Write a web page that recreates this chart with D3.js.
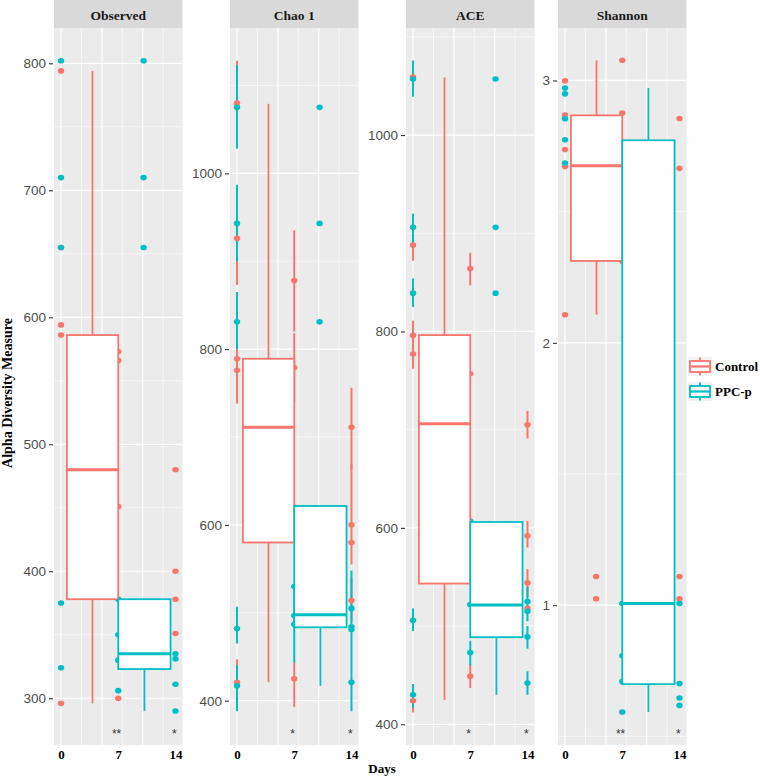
<!DOCTYPE html>
<html><head><meta charset="utf-8">
<script src="https://cdn.jsdelivr.net/npm/d3@7/dist/d3.min.js"></script>
<style>body{margin:0;background:#fff}</style>
</head><body><svg id="c" width="760" height="778"></svg>
<script>
// ---------- DATA ----------
const metrics = ["Observed", "Chao 1", "ACE", "Shannon"];
const groupNames = ["Control", "PPC-p"];
const groupColors = ["#F8766D", "#00BFC4"];
const dayTicks = [0, 7, 14];

const yTicksObserved = [300, 400, 500, 600, 700, 800];
const yTicksChao = [400, 600, 800, 1000];
const yTicksACE = [400, 600, 800, 1000];
const yTicksShannon = [1, 2, 3];

const yDomainObserved = [263.2, 827.8];
const yDomainChao = [349.6, 1165.3];
const yDomainACE = [378.9, 1109];
const yDomainShannon = [0.467, 3.2];

// points: [group, day, value]
const observedPoints = [
  [0,0,794],[0,0,655],[0,0,594],[0,0,586],[0,0,296],
  [1,0,802],[1,0,710],[1,0,655],[1,0,375],[1,0,324],
  [0,7,573],[0,7,566],[0,7,451],[0,7,300],
  [1,7,378],[1,7,350],[1,7,330],[1,7,306],
  [1,10.1,802],[1,10.1,710],[1,10.1,655],
  [0,14,480],[0,14,400],[0,14,378],[0,14,351],
  [1,14,335],[1,14,331],[1,14,311],[1,14,290]
];
const chaoPoints = [
  [0,0,1080],[0,0,926],[0,0,789],[0,0,776],[0,0,421],
  [1,0,1075],[1,0,943],[1,0,831],[1,0,482],[1,0,417],
  [0,7,878],[0,7,779],[0,7,425],
  [1,7,620],[1,7,530],[1,7,497],[1,7,487],
  [1,10.1,1075],[1,10.1,943],[1,10.1,831],
  [0,14,711],[0,14,600],[0,14,580],[0,14,514],
  [1,14,505],[1,14,484],[1,14,481],[1,14,421]
];
const acePoints = [
  [0,0,1059],[0,0,888],[0,0,796],[0,0,777],[0,0,424],
  [1,0,1057],[1,0,906],[1,0,839],[1,0,506],[1,0,430],
  [0,7,864],[0,7,757],[0,7,449],
  [1,7,607],[1,7,522],[1,7,473],
  [1,10.1,1057],[1,10.1,906],[1,10.1,839],
  [0,14,705],[0,14,592],[0,14,544],[0,14,518],
  [1,14,525],[1,14,515],[1,14,489],[1,14,442]
];
const shannonPoints = [
  [0,0,2.999],[0,0,2.868],[0,0,2.737],[0,0,2.672],[0,0,2.107],
  [1,0,2.971],[1,0,2.949],[1,0,2.854],[1,0,2.774],[1,0,2.685],
  [0,3.8,1.109],[0,3.8,1.024],
  [0,7,3.077],[0,7,2.876],[0,7,2.311],
  [1,7,1.006],[1,7,0.807],[1,7,0.709],[1,7,0.593],
  [0,14,2.855],[0,14,2.665],[0,14,1.109],[0,14,1.024],
  [1,14,1.006],[1,14,0.701],[1,14,0.646],[1,14,0.618]
];

// vertical ranges: [group, day, low, high]
const observedRanges = [];
const chaoRanges = [
  [0,0,1030,1128],[0,0,873,960],[0,0,738,803],[0,0,395,447],
  [1,0,1028,1123],[1,0,900,987],[1,0,800,865],[1,0,465,507],[1,0,388,440],
  [0,7,820,935],[0,7,740,818],[0,7,393,443],
  [1,7,443,530],
  [0,14,663,756],[0,14,555,669],[0,14,490,540],
  [1,14,388,548]
];
const aceRanges = [
  [0,0,872,903],[0,0,781,811],[0,0,762,792],[0,0,412,435],
  [1,0,1039,1076],[1,0,889,920],[1,0,825,854],[1,0,495,518],[1,0,417,441],
  [0,7,847,880],[0,7,437,461],
  [1,7,460,485],
  [0,14,691,719],[0,14,580,607],[0,14,530,558],
  [1,14,505,540],[1,14,477,500],[1,14,430,454]
];
const shannonRanges = [];

// box stats: [group, lowerWhisker, q1, median, q3, upperWhisker]
const observedBoxes = [[0,296,378,480,586,794],[1,290,323,335,378,378]];
const chaoBoxes = [[0,421,580,711,789,1079],[1,417,483.5,497.8,621.5,621.5]];
const aceBoxes = [[0,424.7,543.3,706,796.3,1058.8],[1,430,488.7,521.5,606,606]];
const shannonBoxes = [[0,2.107,2.312,2.675,2.867,3.077],[1,0.593,0.699,1.006,2.772,2.971]];

// significance labels at day 7 and day 14
const signifObserved = ["**", "*"];
const signifChao = ["*", "*"];
const signifACE = ["*", "*"];
const signifShannon = ["**", "*"];
const signifDays = [6.8, 13.85];

// ---------- LAYOUT ----------
const panels = [
  {name: metrics[0], ticks: yTicksObserved, dom: yDomainObserved, pts: observedPoints, rng: observedRanges, box: observedBoxes, sig: signifObserved},
  {name: metrics[1], ticks: yTicksChao, dom: yDomainChao, pts: chaoPoints, rng: chaoRanges, box: chaoBoxes, sig: signifChao},
  {name: metrics[2], ticks: yTicksACE, dom: yDomainACE, pts: acePoints, rng: aceRanges, box: aceBoxes, sig: signifACE},
  {name: metrics[3], ticks: yTicksShannon, dom: yDomainShannon, pts: shannonPoints, rng: shannonRanges, box: shannonBoxes, sig: signifShannon}
];
const panelLefts = [54, 230, 406, 558];
const panelW = 128.5;
const pTop = 28, pBottom = 745, stripTop = 0;
const xDomain = [-0.86, 14.86];
// box horizontal extents in day units: [left, right, whiskerX]
const boxSpan = [[0.72, 7.0, 3.85], [7.0, 13.4, 10.2]];

const svg = d3.select("#c");
const serif = "'Liberation Serif','Times New Roman',serif";
const sans = "'Liberation Sans',Arial,sans-serif";

panels.forEach((p, i) => {
  const L = panelLefts[i];
  const x = d3.scaleLinear().domain(xDomain).range([L, L + panelW]);
  const y = d3.scaleLinear().domain(p.dom).range([pBottom, pTop]);
  const g = svg.append("g");

  // strip
  g.append("rect").attr("x", L).attr("y", stripTop).attr("width", panelW).attr("height", pTop - stripTop).attr("fill", "#D9D9D9");
  g.append("text").attr("x", L + panelW / 2).attr("y", 20).attr("text-anchor", "middle")
    .attr("font-family", serif).attr("font-weight", "bold").attr("font-size", 13.5).attr("fill", "#1A1A1A").text(p.name);

  // panel bg
  g.append("rect").attr("x", L).attr("y", pTop).attr("width", panelW).attr("height", pBottom - pTop).attr("fill", "#EBEBEB");

  // grid
  const step = p.ticks[1] - p.ticks[0];
  const minorY = [];
  for (let v = p.ticks[0] - step / 2; v <= p.dom[1]; v += step) if (v >= p.dom[0]) minorY.push(v);
  g.selectAll(null).data(minorY).join("line").attr("x1", L).attr("x2", L + panelW)
    .attr("y1", d => y(d)).attr("y2", d => y(d)).attr("stroke", "#fff").attr("stroke-width", 0.6);
  const minorX = [2.5, 7.5, 12.5], majorX = [0, 5, 10];
  g.selectAll(null).data(minorX).join("line").attr("y1", pTop).attr("y2", pBottom)
    .attr("x1", d => x(d)).attr("x2", d => x(d)).attr("stroke", "#fff").attr("stroke-width", 0.6);
  g.selectAll(null).data(p.ticks).join("line").attr("x1", L).attr("x2", L + panelW)
    .attr("y1", d => y(d)).attr("y2", d => y(d)).attr("stroke", "#fff").attr("stroke-width", 1.2);
  g.selectAll(null).data(majorX).join("line").attr("y1", pTop).attr("y2", pBottom)
    .attr("x1", d => x(d)).attr("x2", d => x(d)).attr("stroke", "#fff").attr("stroke-width", 1.2);

  // y axis
  const ya = d3.axisLeft(y).tickValues(p.ticks).tickSize(4).tickPadding(3).tickFormat(d3.format("d"));
  const yg = svg.append("g").attr("transform", `translate(${L - 1},0)`).call(ya);
  yg.select(".domain").remove();
  yg.selectAll(".tick line").attr("stroke", "#333").attr("stroke-width", 1.1);
  yg.selectAll(".tick text").attr("font-family", sans).attr("font-size", 13.5).attr("fill", "#4D4D4D");

  // x axis
  const xa = d3.axisBottom(x).tickValues(dayTicks).tickSize(0).tickPadding(5);
  const xg = svg.append("g").attr("transform", `translate(0,${pBottom})`).call(xa);
  xg.select(".domain").remove();
  xg.selectAll(".tick text").attr("font-family", serif).attr("font-weight", "bold").attr("font-size", 13).attr("fill", "#000");

  // ranges (red first, then cyan)
  const rng = p.rng.slice().sort((a, b) => a[0] - b[0]);
  g.selectAll(null).data(rng).join("line")
    .attr("x1", d => x(d[1])).attr("x2", d => x(d[1]))
    .attr("y1", d => y(d[2])).attr("y2", d => y(d[3]))
    .attr("stroke", d => groupColors[d[0]]).attr("stroke-width", 2);

  // points
  const pts = p.pts.slice().sort((a, b) => a[0] - b[0]);
  g.selectAll(null).data(pts).join("ellipse")
    .attr("cx", d => x(d[1])).attr("cy", d => y(d[2])).attr("rx", 3.2).attr("ry", 2.8)
    .attr("fill", d => groupColors[d[0]]);

  // boxes
  p.box.forEach(b => {
    const [gi, lo, q1, med, q3, hi] = b;
    const [bl, br, wx] = boxSpan[gi];
    const c = groupColors[gi];
    if (hi > q3) g.append("line").attr("x1", x(wx)).attr("x2", x(wx)).attr("y1", y(q3)).attr("y2", y(hi)).attr("stroke", c).attr("stroke-width", 1.8);
    if (lo < q1) g.append("line").attr("x1", x(wx)).attr("x2", x(wx)).attr("y1", y(q1)).attr("y2", y(lo)).attr("stroke", c).attr("stroke-width", 1.8);
    g.append("rect").attr("x", x(bl)).attr("y", y(q3)).attr("width", x(br) - x(bl)).attr("height", y(q1) - y(q3))
      .attr("fill", "#fff").attr("stroke", c).attr("stroke-width", 1.8);
    g.append("line").attr("x1", x(bl)).attr("x2", x(br)).attr("y1", y(med)).attr("y2", y(med)).attr("stroke", c).attr("stroke-width", 3);
  });

  // significance
  g.selectAll(null).data(p.sig).join("text")
    .attr("x", (d, k) => x(signifDays[k])).attr("y", pBottom - 7).attr("text-anchor", "middle")
    .attr("font-family", sans).attr("font-size", 12).attr("fill", "#333").text(d => d);
});

// axis titles
svg.append("text").attr("transform", "translate(12,393) rotate(-90)").attr("text-anchor", "middle")
  .attr("font-family", serif).attr("font-weight", "bold").attr("font-size", 14).attr("fill", "#000")
  .text("Alpha Diversity Measure");
svg.append("text").attr("x", 382).attr("y", 773).attr("text-anchor", "middle")
  .attr("font-family", serif).attr("font-weight", "bold").attr("font-size", 13).attr("fill", "#000").text("Days");

// legend
const lg = svg.append("g");
groupNames.forEach((nm, i) => {
  const ky = 357 + i * 25, kx = 688, c = groupColors[i];
  lg.append("rect").attr("x", kx).attr("y", ky).attr("width", 24).attr("height", 19).attr("fill", "#F2F2F2");
  lg.append("line").attr("x1", kx + 12).attr("x2", kx + 12).attr("y1", ky + 0.5).attr("y2", ky + 18.5).attr("stroke", c).attr("stroke-width", 1.8);
  lg.append("rect").attr("x", kx + 2).attr("y", ky + 4).attr("width", 20).attr("height", 11).attr("fill", "#fff").attr("stroke", c).attr("stroke-width", 1.8);
  lg.append("line").attr("x1", kx + 2).attr("x2", kx + 22).attr("y1", ky + 9.5).attr("y2", ky + 9.5).attr("stroke", c).attr("stroke-width", 2.2);
  lg.append("text").attr("x", 715).attr("y", ky + 14).attr("font-family", serif).attr("font-weight", "bold")
    .attr("font-size", 13).attr("fill", "#000").text(nm);
});
</script></body></html>
